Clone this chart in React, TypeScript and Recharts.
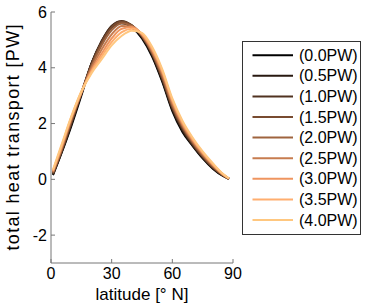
import { Line, LineChart, XAxis, YAxis } from 'recharts';

const latitudes = [1, 5, 10, 15, 20, 25, 30, 35, 40, 45, 50, 55, 60, 65, 70, 75, 80, 85, 88];

const pw00 = [0.15, 0.9, 1.9, 3.0, 4.15, 4.9, 5.45, 5.6, 5.45, 5.05, 4.4, 3.5, 2.45, 1.7, 1.2, 0.75, 0.38, 0.12, 0.02];
const pw05 = [0.18, 0.92, 1.95, 3.05, 4.15, 4.95, 5.5, 5.65, 5.5, 5.1, 4.45, 3.55, 2.5, 1.75, 1.22, 0.78, 0.4, 0.13, 0.02];
const pw10 = [0.2, 0.95, 2.0, 3.1, 4.15, 4.95, 5.5, 5.68, 5.52, 5.12, 4.5, 3.6, 2.55, 1.8, 1.25, 0.8, 0.42, 0.14, 0.02];
const pw15 = [0.22, 0.98, 2.05, 3.1, 4.1, 4.9, 5.45, 5.65, 5.52, 5.13, 4.52, 3.65, 2.6, 1.85, 1.3, 0.83, 0.44, 0.15, 0.02];
const pw20 = [0.25, 1.02, 2.1, 3.1, 4.05, 4.8, 5.35, 5.6, 5.5, 5.15, 4.55, 3.7, 2.65, 1.9, 1.33, 0.86, 0.47, 0.16, 0.02];
const pw25 = [0.27, 1.06, 2.15, 3.1, 3.98, 4.65, 5.2, 5.5, 5.48, 5.18, 4.6, 3.78, 2.72, 1.95, 1.38, 0.9, 0.5, 0.17, 0.03];
const pw30 = [0.3, 1.1, 2.2, 3.12, 3.9, 4.5, 5.05, 5.4, 5.45, 5.2, 4.65, 3.85, 2.8, 2.0, 1.42, 0.94, 0.53, 0.18, 0.03];
const pw35 = [0.32, 1.15, 2.22, 3.14, 3.85, 4.4, 4.92, 5.28, 5.4, 5.22, 4.7, 3.9, 2.85, 2.05, 1.46, 0.97, 0.55, 0.19, 0.03];
const pw40 = [0.35, 1.2, 2.25, 3.15, 3.8, 4.3, 4.8, 5.15, 5.33, 5.25, 4.75, 3.95, 2.9, 2.1, 1.5, 1.0, 0.58, 0.2, 0.03];

const seriesNames = ['(0.0PW)', '(0.5PW)', '(1.0PW)', '(1.5PW)', '(2.0PW)', '(2.5PW)', '(3.0PW)', '(3.5PW)', '(4.0PW)'];
const seriesValues = [pw00, pw05, pw10, pw15, pw20, pw25, pw30, pw35, pw40];
// copper colormap
const seriesColors = ['#000000', '#281910', '#503220', '#784b30', '#9f643f', '#c77c4f', '#ef955f', '#ffae6f', '#ffc77f'];

const xTicks = [0, 30, 60, 90];
const yTicks = [-2, 0, 2, 4, 6];

const data = latitudes.map((lat, i) => {
    const row: Record<string, number> = { lat };
    seriesValues.forEach((vals, s) => {
        row[`s${s}`] = vals[i];
    });
    return row;
});

const font = '"Liberation Sans", Arial, sans-serif';
const tickStyle = { fill: '#000', fontSize: 16, fontFamily: font };

function Legend() {
    return (
        <svg
            width={119}
            height={194}
            style={{ position: 'absolute', left: 242, top: 41, background: '#fff' }}
        >
            <rect x={0.5} y={0.5} width={118} height={193} fill="#fff" stroke="#333" />
            {seriesNames.map((name, i) => {
                const y = 14.2 + i * 20.6;
                return (
                    <g key={name}>
                        <line x1={10.5} x2={51} y1={y} y2={y} stroke={seriesColors[i]} strokeWidth={2} />
                        <text x={57} y={y} dominantBaseline="central" fontSize={16} fontFamily={font} fill="#000">
                            {name}
                        </text>
                    </g>
                );
            })}
        </svg>
    );
}

export default function App() {
    return (
        <div style={{ position: 'absolute', left: 0, top: 0, width: 370, height: 308, background: '#fff' }}>
            <LineChart
                width={370}
                height={308}
                data={data}
                margin={{ top: 12, right: 137, bottom: 0, left: 0 }}
            >
                <XAxis
                    dataKey="lat"
                    type="number"
                    domain={[0, 90]}
                    ticks={xTicks}
                    stroke="#777"
                    tickSize={-4}
                    tickMargin={9}
                    tick={tickStyle}
                    height={45}
                    label={{
                        value: 'latitude [° N]',
                        position: 'insideBottom',
                        offset: 8,
                        style: { fill: '#000', fontSize: 17, fontFamily: font },
                    }}
                />
                <XAxis
                    xAxisId="top"
                    orientation="top"
                    type="number"
                    domain={[0, 90]}
                    ticks={xTicks}
                    stroke="#222"
                    tickSize={-4}
                    tick={false}
                    height={0}
                />
                <YAxis
                    type="number"
                    domain={[-3, 6]}
                    ticks={yTicks}
                    stroke="#777"
                    tickSize={-4}
                    tickMargin={8}
                    tick={tickStyle}
                    width={51}
                    label={{
                        content: (props: any) => {
                            const vb = props.viewBox || { x: 0, y: 12, width: 51, height: 251 };
                            const cx = 13;
                            const cy = vb.y + vb.height / 2;
                            return (
                                <text
                                    x={cx}
                                    y={cy}
                                    transform={`rotate(-90 ${cx} ${cy})`}
                                    textAnchor="middle"
                                    dominantBaseline="central"
                                    fontSize={18}
                                    fontFamily={font}
                                    textLength={226}
                                    lengthAdjust="spacing"
                                    fill="#000"
                                >
                                    total heat transport [PW]
                                </text>
                            );
                        },
                    }}
                />
                <YAxis
                    yAxisId="right"
                    orientation="right"
                    type="number"
                    domain={[-3, 6]}
                    ticks={yTicks}
                    stroke="#222"
                    tickSize={-4}
                    tick={false}
                    width={0}
                />
                {seriesNames.map((name, s) => (
                    <Line
                        key={name}
                        name={name}
                        dataKey={`s${s}`}
                        type="monotone"
                        stroke={seriesColors[s]}
                        strokeWidth={2}
                        dot={false}
                        isAnimationActive={false}
                    />
                ))}
            </LineChart>
            <Legend />
        </div>
    );
}
